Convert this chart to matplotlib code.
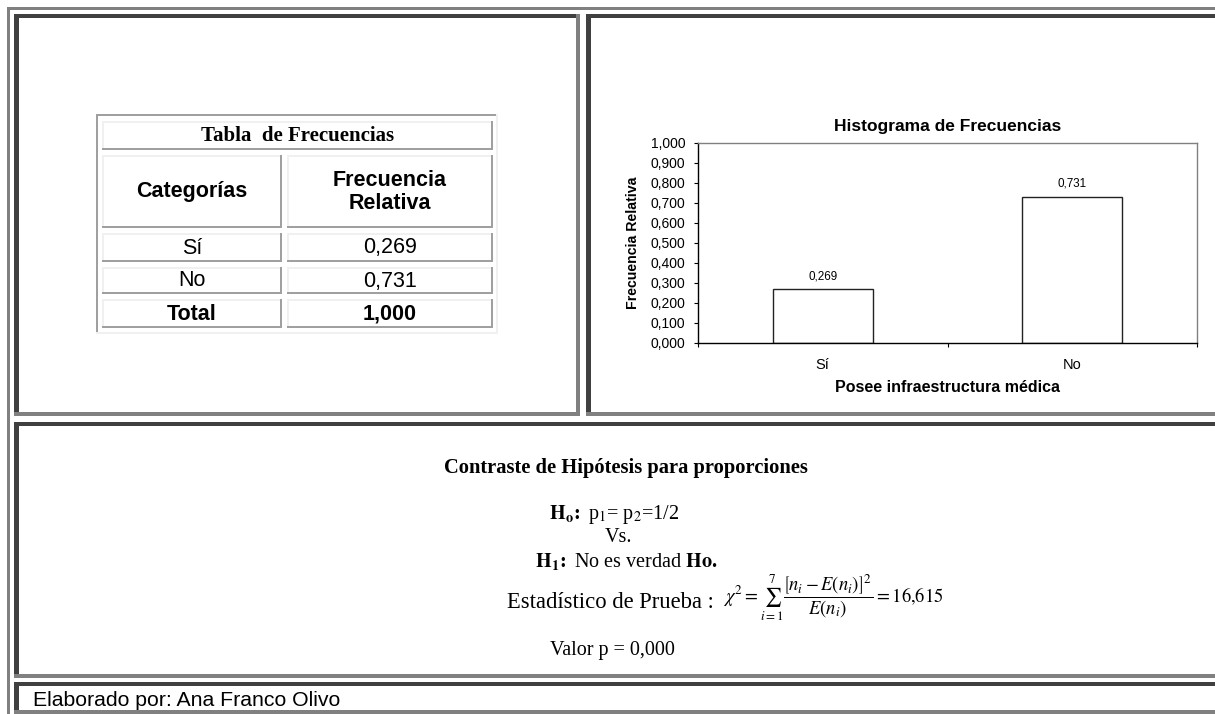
import matplotlib
matplotlib.use("Agg")
import matplotlib.pyplot as plt
from matplotlib.patches import Rectangle
import numpy as np

# ---------------- data ----------------
categories = ["Sí", "No"]
rel_freq = [0.269, 0.731]
table_title = "Tabla  de Frecuencias"
col_headers = ["Categorías", "Frecuencia\nRelativa"]
chart_title = "Histograma de Frecuencias"
x_label = "Posee infraestructura médica"
y_label = "Frecuencia Relativa"
y_ticks = [0.0, 0.1, 0.2, 0.3, 0.4, 0.5, 0.6, 0.7, 0.8, 0.9, 1.0]
chi2_stat = 16.615
p_value = 0.000
author = "Elaborado por: Ana Franco Olivo"


def fmt(v):
    return f"{v:.3f}".replace(".", ",")


plt.rcParams["mathtext.fontset"] = "stix"
SERIF = "Liberation Serif"
SANS = "Liberation Sans"

W, H = 1215, 714
fig = plt.figure(figsize=(W / 100, H / 100), dpi=100)
fig.patch.set_facecolor("white")

ov = fig.add_axes([0, 0, 1, 1], zorder=0)
ov.set_xlim(0, W)
ov.set_ylim(H, 0)
ov.axis("off")

DARK = "#404040"
GRAY = "#808080"


def rect(x0, y0, x1, y1, color):
    ov.add_patch(Rectangle((x0, y0), x1 - x0, y1 - y0, facecolor=color,
                           edgecolor="none", antialiased=False))


def bevel(x0, y0, x1, y1, tl, br, w=4, wl=None):
    wl = w if wl is None else wl
    rect(x0, y0, x1, y0 + w, tl)          # top
    rect(x0, y0, x0 + wl, y1, tl)         # left
    rect(x0, y1 - w, x1, y1, br)          # bottom
    rect(x1 - w, y0, x1, y1, br)          # right


# outer frame
rect(7, 7, W + 10, 10, GRAY)
rect(7, 7, 10, H + 10, GRAY)
# cells
bevel(14, 14, 580, 416, DARK, GRAY, 4, 5)
bevel(586, 14, W + 20, 416, DARK, GRAY, 4, 5)
bevel(14, 422, W + 20, 678, DARK, GRAY, 4, 5)
bevel(14, 682, W + 20, 714, DARK, GRAY, 4, 5)

# ---------------- frequency table ----------------
TL = "#a0a0a0"
LT = "#f0f0f0"
bevel(96, 114, 498, 334, TL, LT, 2)
cells = [
    (102, 121, 493, 150),
    (102, 155, 282, 228), (287, 155, 493, 228),
    (102, 233, 282, 262), (287, 233, 493, 262),
    (102, 267, 282, 294), (287, 267, 493, 294),
    (102, 299, 282, 328), (287, 299, 493, 328),
]
for c in cells:
    bevel(*c, LT, TL, 2)

ov.text(297.5, 136, table_title, family=SERIF, weight="bold", fontsize=15,
        ha="center", va="center")
ov.text(192, 192, col_headers[0], family=SANS, weight="bold", fontsize=15.5,
        ha="center", va="center")
ov.text(390, 192, col_headers[1], family=SANS, weight="bold", fontsize=15.5,
        ha="center", va="center", linespacing=1.15)
row_y = [248, 281]
for cat, v, yy in zip(categories, rel_freq, row_y):
    ov.text(192, yy, cat, family=SANS, fontsize=15.5, ha="center", va="center")
    ov.text(390, yy, fmt(v), family=SANS, fontsize=15.5, ha="center", va="center")
ov.text(192, 314, "Total", family=SANS, weight="bold", fontsize=15.5,
        ha="center", va="center")
ov.text(390, 314, fmt(sum(rel_freq)), family=SANS, weight="bold", fontsize=15.5,
        ha="center", va="center")

# ---------------- histogram ----------------
ax_l, ax_r, ax_t, ax_b = 698, 1197, 143, 343
ax = fig.add_axes([ax_l / W, (H - ax_b) / H, (ax_r - ax_l) / W, (ax_b - ax_t) / H],
                  zorder=2)
ax.set_facecolor("white")
xpos = np.arange(len(categories))
bars = ax.bar(xpos, rel_freq, width=0.4, facecolor="white", edgecolor="#222222",
              linewidth=1.0)
ax.bar_label(bars, labels=[fmt(v) for v in rel_freq], padding=5,
             fontsize=8.4, family=SANS)
ax.set_xlim(-0.5, len(categories) - 0.5)
ax.set_ylim(0, 1)
ax.set_yticks(y_ticks)
ax.set_yticklabels([fmt(v) for v in y_ticks], family=SANS, fontsize=10)
ax.tick_params(axis="y", direction="out", length=3, width=0.8, pad=6)
ax.set_xticks(np.arange(-0.5, len(categories), 1.0))
ax.set_xticklabels([])
ax.tick_params(axis="x", which="major", direction="out", length=3, width=0.8)
ax.set_xticks(xpos, minor=True)
ax.set_xticklabels(categories, minor=True, family=SANS, fontsize=10.5)
ax.tick_params(axis="x", which="minor", length=0, pad=11)
for s in ["left", "bottom"]:
    ax.spines[s].set_color("black")
    ax.spines[s].set_linewidth(1.0)
for s in ["top", "right"]:
    ax.spines[s].set_color(GRAY)
    ax.spines[s].set_linewidth(1.0)
ax.set_title(chart_title, family=SANS, weight="bold", fontsize=12.5,
             y=1 + (ax_t - 127) / (ax_b - ax_t), pad=0, va="center")
ax.set_xlabel(x_label, family=SANS, weight="bold", fontsize=11.5, va="center")
ax.xaxis.set_label_coords(0.5, -(388 - ax_b) / (ax_b - ax_t))
ax.set_ylabel(y_label, family=SANS, weight="bold", fontsize=10.2, va="center")
ax.yaxis.set_label_coords(-(ax_l - 633) / (ax_r - ax_l), 0.5)

# ---------------- hypothesis test ----------------
FS = 14.5
ov.text(626, 468, "Contraste de Hipótesis para proporciones", family=SERIF,
        weight="bold", fontsize=14.8, ha="center", va="center")
ov.text(549, 514, r"$\mathbf{H_o}\!\mathbf{:}$ p$_1$= p$_2$=1/2", family=SERIF,
        fontsize=FS, ha="left", va="center")
ov.text(619, 538, "Vs.", family=SERIF, fontsize=FS, ha="center", va="center")
ov.text(535, 562, r"$\mathbf{H_1}\!\mathbf{:}$ No es verdad $\mathbf{Ho.}$",
        family=SERIF, fontsize=FS, ha="left", va="center")
ov.text(507, 603, "Estadístico de Prueba :", family=SERIF, fontsize=16.3,
        ha="left", va="center")
stat_txt = f"{chi2_stat:.3f}".replace(".", "{,}")
ov.text(723, 598,
        r"$\chi^2=\sum_{i=1}^{7}\dfrac{\left[n_i-E\left(n_i\right)\right]^2}{E\left(n_i\right)}="
        + stat_txt + "$", family=SERIF, fontsize=13.4, ha="left", va="center")
ov.text(612, 650, "Valor p = " + fmt(p_value), family=SERIF, fontsize=FS,
        ha="center", va="center")

# ---------------- footer ----------------
ov.text(33, 700, author, family=SANS, fontsize=15.3, ha="left", va="center")

fig.savefig("out.png", dpi=100, facecolor="white")
